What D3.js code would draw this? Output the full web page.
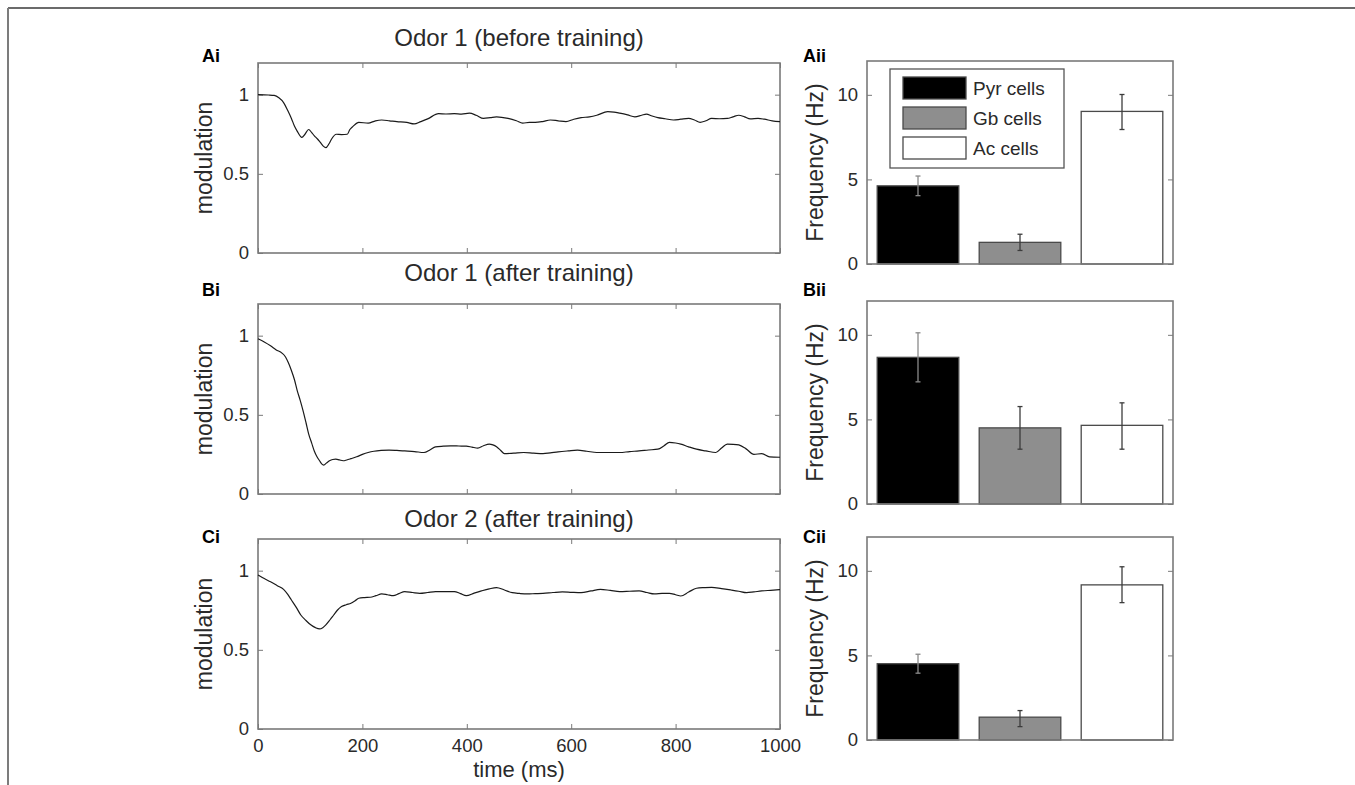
<!DOCTYPE html>
<html>
<head>
<meta charset="utf-8">
<script src="https://cdn.jsdelivr.net/npm/d3@7"></script>
<style>
  body { margin: 0; background: #fff; }
  svg { display: block; font-family: "Liberation Sans", Arial, sans-serif; }
</style>
</head>
<body>
<svg id="fig" width="1355" height="785"></svg>
<script>
// ---- data ----
const panelTitles = ["Odor 1 (before training)", "Odor 1 (after training)", "Odor 2 (after training)"];
const leftLabels = ["Ai", "Bi", "Ci"];
const rightLabels = ["Aii", "Bii", "Cii"];
const timeTicks = [0, 200, 400, 600, 800, 1000];
const modTicks = [0, 0.5, 1];
const freqTicks = [0, 5, 10];
const cellTypes = ["Pyr cells", "Gb cells", "Ac cells"];
const cellFill = ["#000000", "#8e8e8e", "#ffffff"];

// [time ms, modulation]
const odor1Before = [
  [0, 1.0], [20, 0.998], [31, 0.995], [40, 0.98], [49, 0.95], [57, 0.9], [64, 0.85], [70, 0.8], [75, 0.77],
  [84, 0.73], [90, 0.75], [97, 0.78], [103, 0.76], [108, 0.74], [114, 0.72], [119, 0.70], [125, 0.675],
  [130, 0.665], [136, 0.69], [141, 0.72], [150, 0.75], [160, 0.748], [171, 0.75], [176, 0.78], [182, 0.80],
  [193, 0.825], [211, 0.82], [225, 0.835], [237, 0.84], [252, 0.835], [266, 0.83], [285, 0.825], [299, 0.815],
  [312, 0.83], [325, 0.847], [346, 0.88], [360, 0.878], [376, 0.88], [390, 0.877], [405, 0.883], [418, 0.87],
  [432, 0.85], [445, 0.855], [457, 0.86], [479, 0.85], [495, 0.835], [507, 0.82], [520, 0.825], [531, 0.825],
  [545, 0.83], [560, 0.84], [575, 0.835], [590, 0.83], [605, 0.845], [619, 0.855], [635, 0.86], [649, 0.87],
  [670, 0.893], [682, 0.89], [693, 0.883], [708, 0.872], [722, 0.86], [735, 0.87], [744, 0.877], [755, 0.865],
  [766, 0.855], [780, 0.848], [796, 0.84], [810, 0.845], [825, 0.85], [836, 0.84], [847, 0.825], [858, 0.835],
  [869, 0.85], [884, 0.848], [899, 0.85], [910, 0.86], [921, 0.87], [932, 0.86], [943, 0.847], [958, 0.85],
  [970, 0.845], [985, 0.835], [1000, 0.83]
];
const odor1After = [
  [0, 0.98], [12, 0.96], [24, 0.936], [35, 0.91], [46, 0.89], [53, 0.864], [58, 0.83], [64, 0.78], [70, 0.72],
  [75, 0.655], [81, 0.59], [86, 0.53], [92, 0.45], [97, 0.38], [103, 0.32], [108, 0.27], [113, 0.235],
  [118, 0.21], [122, 0.19], [126, 0.183], [131, 0.195], [137, 0.21], [143, 0.218], [149, 0.22], [156, 0.215],
  [163, 0.21], [170, 0.215], [178, 0.223], [189, 0.235], [200, 0.25], [211, 0.262], [222, 0.27], [236, 0.275],
  [251, 0.277], [266, 0.275], [281, 0.272], [300, 0.268], [318, 0.262], [330, 0.28], [340, 0.298],
  [355, 0.302], [369, 0.304], [385, 0.303], [399, 0.302], [410, 0.296], [421, 0.29], [432, 0.305],
  [443, 0.315], [450, 0.31], [457, 0.298], [465, 0.275], [472, 0.255], [490, 0.258], [509, 0.262],
  [528, 0.258], [546, 0.255], [560, 0.26], [575, 0.266], [594, 0.272], [612, 0.277], [630, 0.27],
  [649, 0.262], [670, 0.262], [693, 0.262], [712, 0.268], [730, 0.272], [748, 0.278], [766, 0.283],
  [778, 0.305], [788, 0.326], [800, 0.322], [810, 0.315], [825, 0.298], [840, 0.283], [858, 0.272],
  [877, 0.262], [888, 0.29], [899, 0.315], [910, 0.314], [921, 0.31], [935, 0.285], [950, 0.25],
  [965, 0.255], [980, 0.235], [1000, 0.232]
];
const odor2After = [
  [0, 0.973], [12, 0.95], [24, 0.93], [37, 0.905], [49, 0.882], [57, 0.85], [64, 0.815], [73, 0.77],
  [82, 0.72], [92, 0.685], [101, 0.658], [110, 0.64], [118, 0.632], [124, 0.64], [130, 0.658], [138, 0.69],
  [145, 0.72], [152, 0.75], [160, 0.773], [169, 0.785], [178, 0.794], [186, 0.81], [193, 0.826],
  [204, 0.83], [215, 0.832], [226, 0.842], [237, 0.853], [248, 0.848], [259, 0.842], [270, 0.855],
  [281, 0.868], [296, 0.862], [310, 0.857], [325, 0.862], [340, 0.868], [358, 0.868], [376, 0.868],
  [388, 0.855], [399, 0.842], [414, 0.858], [428, 0.872], [443, 0.885], [457, 0.893], [472, 0.878],
  [487, 0.861], [501, 0.856], [516, 0.853], [531, 0.855], [546, 0.857], [565, 0.862], [583, 0.866],
  [601, 0.863], [619, 0.861], [638, 0.872], [656, 0.882], [675, 0.875], [693, 0.868], [712, 0.87],
  [730, 0.872], [745, 0.862], [759, 0.853], [774, 0.856], [788, 0.857], [800, 0.848], [810, 0.84],
  [825, 0.865], [840, 0.889], [855, 0.893], [869, 0.895], [888, 0.887], [906, 0.878], [921, 0.87],
  [936, 0.861], [950, 0.866], [965, 0.872], [982, 0.876], [1000, 0.88]
];
const traces = [odor1Before, odor1After, odor2After];

// mean firing frequency (Hz) with error bar bounds, order: Pyr, Gb, Ac
const freqMeans = [
  [4.62, 1.28, 9.02],
  [8.67, 4.5, 4.65],
  [4.51, 1.35, 9.17]
];
const freqErrLow = [
  [4.04, 0.8, 7.95],
  [7.22, 3.24, 3.24],
  [3.95, 0.79, 8.12]
];
const freqErrHigh = [
  [5.2, 1.76, 10.02],
  [10.12, 5.76, 5.98],
  [5.07, 1.74, 10.24]
];

// ---- layout ----
const svg = d3.select("#fig");
const leftX = [258, 780];
const leftTops = [63, 304, 539];
const leftH = 190;
const rightX = [867, 1173];
const rightTops = [61, 301, 537];
const rightH = 203;
const titleY = [46, 281, 527];
const leftLabelY = [62, 296, 543];
const rightLabelY = [62, 296, 543];

const boxColor = "#7a7a7a";
const textColor = "#2a2a2a";

// outer frame of the figure
svg.append("line").attr("x1", 8).attr("x2", 1355).attr("y1", 8).attr("y2", 8)
    .attr("stroke", "#3a3a3a").attr("stroke-width", 1.6);
svg.append("line").attr("x1", 8).attr("x2", 8).attr("y1", 8).attr("y2", 785)
    .attr("stroke", "#7c7c7c").attr("stroke-width", 2);

const xScale = d3.scaleLinear().domain([0, 1000]).range(leftX);
const bandScale = d3.scaleBand().domain(cellTypes).range(rightX).paddingInner(0.2).paddingOuter(0.1);

const styleAxis = g => {
    g.select(".domain").remove();
    g.selectAll(".tick line").attr("stroke", boxColor).attr("stroke-width", 1);
    g.selectAll(".tick text").attr("fill", textColor).style("font-size", "18.5px")
        .style("font-family", "Liberation Sans, Arial, sans-serif");
};

leftTops.forEach((top, i) => {
    const g = svg.append("g");
    const yScale = d3.scaleLinear().domain([0, 1.2]).range([top + leftH, top]);

    // ticks (inward, MATLAB style)
    g.append("g").attr("transform", `translate(0,${top + leftH})`)
        .call(d3.axisBottom(xScale).tickValues(timeTicks).tickSizeInner(-5).tickSizeOuter(0).tickPadding(10)
            .tickFormat(i === 2 ? d3.format("") : ""))
        .call(styleAxis);
    g.append("g").attr("transform", `translate(0,${top})`)
        .call(d3.axisTop(xScale).tickValues(timeTicks).tickSizeInner(-5).tickSizeOuter(0).tickFormat(""))
        .call(styleAxis);
    g.append("g").attr("transform", `translate(${leftX[0]},0)`)
        .call(d3.axisLeft(yScale).tickValues(modTicks).tickSizeInner(-5).tickSizeOuter(0).tickPadding(9)
            .tickFormat(d3.format("")))
        .call(styleAxis);
    g.append("g").attr("transform", `translate(${leftX[1]},0)`)
        .call(d3.axisRight(yScale).tickValues(modTicks).tickSizeInner(-5).tickSizeOuter(0).tickFormat(""))
        .call(styleAxis);

    g.append("rect")
        .attr("x", leftX[0]).attr("y", top)
        .attr("width", leftX[1] - leftX[0]).attr("height", leftH)
        .attr("fill", "none").attr("stroke", boxColor).attr("stroke-width", 1.6);

    g.append("path")
        .datum(traces[i])
        .attr("fill", "none")
        .attr("stroke", "#1a1a1a")
        .attr("stroke-width", 1.2)
        .attr("d", d3.line().x(d => xScale(d[0])).y(d => yScale(d[1])).curve(d3.curveMonotoneX));

    g.append("text")
        .attr("x", (leftX[0] + leftX[1]) / 2).attr("y", titleY[i])
        .attr("text-anchor", "middle").attr("fill", textColor)
        .style("font-size", "24px")
        .text(panelTitles[i]);

    g.append("text")
        .attr("x", 202).attr("y", leftLabelY[i])
        .attr("fill", "#000").style("font-size", "18px").style("font-weight", "bold")
        .text(leftLabels[i]);

    g.append("text")
        .attr("transform", `translate(212,${top + leftH / 2}) rotate(-90)`)
        .attr("text-anchor", "middle").attr("fill", textColor)
        .style("font-size", "23px")
        .text("modulation");

    if (i === 2) {
        g.append("text")
            .attr("x", (leftX[0] + leftX[1]) / 2).attr("y", 777)
            .attr("text-anchor", "middle").attr("fill", textColor)
            .style("font-size", "22px")
            .text("time (ms)");
    }
});

rightTops.forEach((top, i) => {
    const g = svg.append("g");
    const yScale = d3.scaleLinear().domain([0, 12]).range([top + rightH, top]);

    g.append("g").attr("transform", `translate(${rightX[0]},0)`)
        .call(d3.axisLeft(yScale).tickValues(freqTicks).tickSizeInner(-5).tickSizeOuter(0).tickPadding(9))
        .call(styleAxis);
    g.append("g").attr("transform", `translate(${rightX[1]},0)`)
        .call(d3.axisRight(yScale).tickValues(freqTicks).tickSizeInner(-5).tickSizeOuter(0).tickFormat(""))
        .call(styleAxis);

    const rows = cellTypes.map((c, k) => ({
        cell: c, fill: cellFill[k],
        mean: freqMeans[i][k], lo: freqErrLow[i][k], hi: freqErrHigh[i][k]
    }));

    g.selectAll(".bar").data(rows).join("rect")
        .attr("class", "bar")
        .attr("x", d => bandScale(d.cell))
        .attr("y", d => yScale(d.mean))
        .attr("width", bandScale.bandwidth())
        .attr("height", d => yScale(0) - yScale(d.mean))
        .attr("fill", d => d.fill)
        .attr("stroke", "#4a4a4a").attr("stroke-width", 1.3);

    const cx = d => bandScale(d.cell) + bandScale.bandwidth() / 2;
    const err = g.selectAll(".err").data(rows).join("g").attr("class", "err")
        .attr("stroke", d => d.fill === "#000000" ? "#8a8a8a" : "#3c3c3c").attr("stroke-width", 1.3);
    err.append("line").attr("x1", cx).attr("x2", cx).attr("y1", d => yScale(d.lo)).attr("y2", d => yScale(d.hi));
    err.append("line").attr("x1", d => cx(d) - 2.5).attr("x2", d => cx(d) + 2.5)
        .attr("y1", d => yScale(d.hi)).attr("y2", d => yScale(d.hi));
    err.append("line").attr("x1", d => cx(d) - 2.5).attr("x2", d => cx(d) + 2.5)
        .attr("y1", d => yScale(d.lo)).attr("y2", d => yScale(d.lo));

    g.append("rect")
        .attr("x", rightX[0]).attr("y", top)
        .attr("width", rightX[1] - rightX[0]).attr("height", rightH)
        .attr("fill", "none").attr("stroke", boxColor).attr("stroke-width", 1.6);

    g.append("text")
        .attr("x", 803).attr("y", rightLabelY[i])
        .attr("fill", "#000").style("font-size", "18px").style("font-weight", "bold")
        .text(rightLabels[i]);

    g.append("text")
        .attr("transform", `translate(823,${top + rightH / 2}) rotate(-90)`)
        .attr("text-anchor", "middle").attr("fill", textColor)
        .style("font-size", "23px")
        .text("Frequency (Hz)");

    if (i === 0) {
        const legend = g.append("g").attr("transform", "translate(890,69)");
        legend.append("rect").attr("width", 174).attr("height", 99)
            .attr("fill", "#fff").attr("stroke", "#555").attr("stroke-width", 1.3);
        const item = legend.selectAll(".item").data(cellTypes).join("g")
            .attr("class", "item")
            .attr("transform", (d, k) => `translate(13,${8 + k * 30})`);
        item.append("rect").attr("width", 63).attr("height", 22)
            .attr("fill", (d, k) => cellFill[k]).attr("stroke", "#4a4a4a").attr("stroke-width", 1.3);
        item.append("text").attr("x", 70).attr("y", 18)
            .attr("fill", textColor).style("font-size", "19px")
            .text(d => d);
    }
});
</script>
</body>
</html>
